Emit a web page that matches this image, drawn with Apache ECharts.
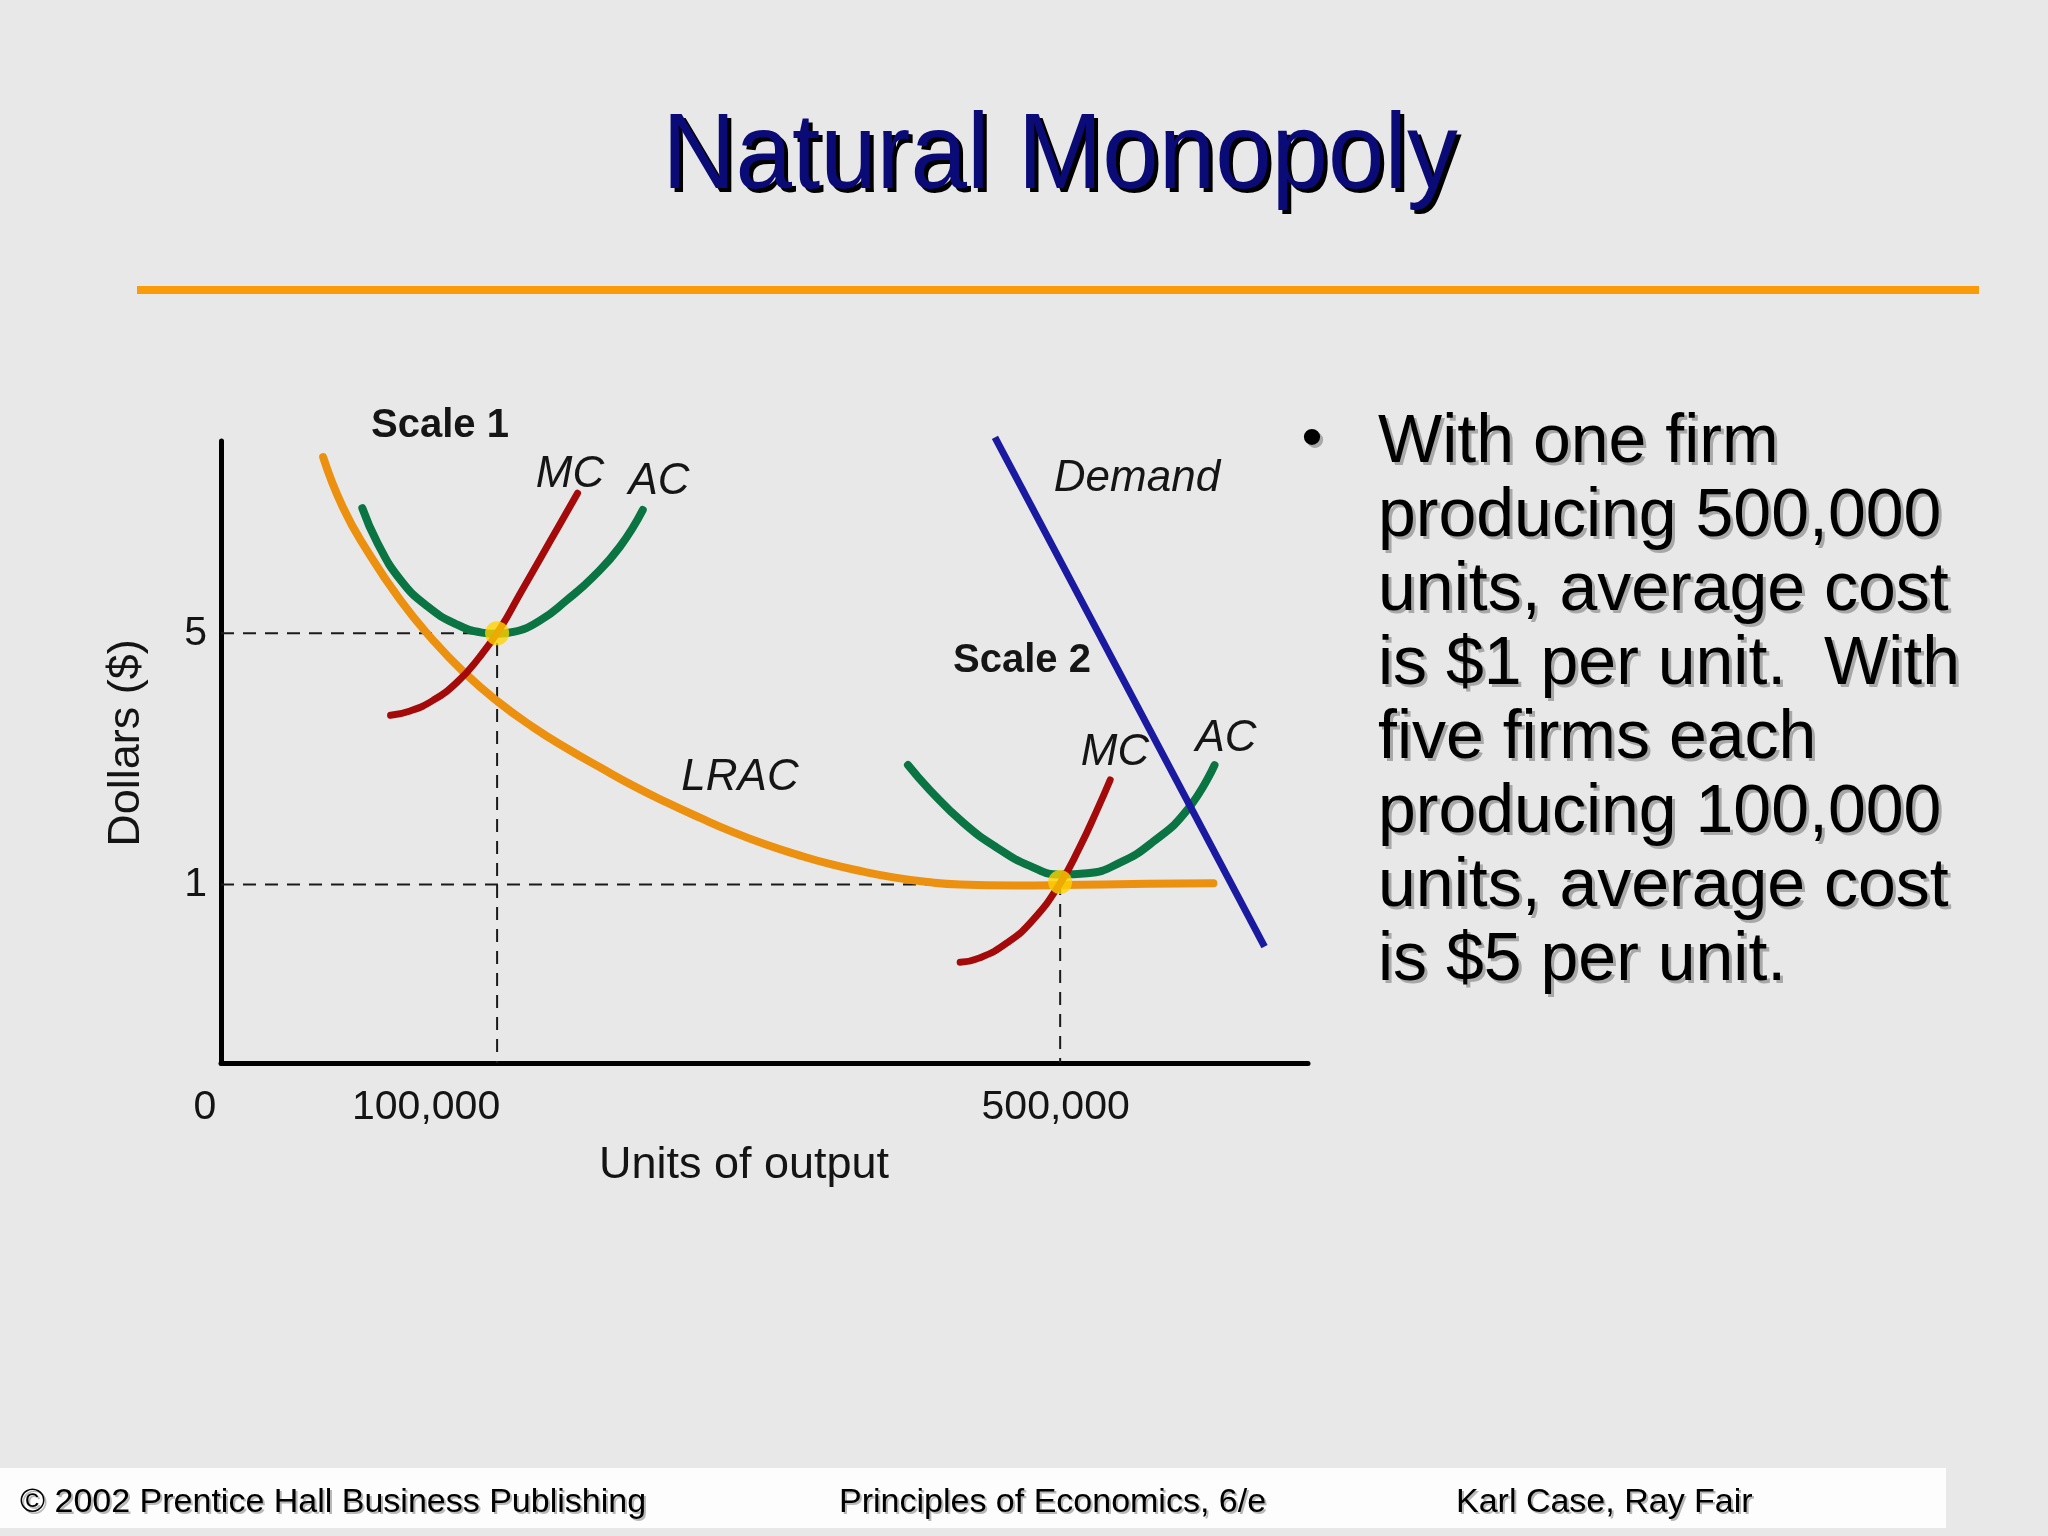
<!DOCTYPE html>
<html><head><meta charset="utf-8">
<script src="https://cdn.jsdelivr.net/npm/echarts@6/dist/echarts.min.js"></script>
<style>html,body{margin:0;padding:0;background:#e8e8e8}#c{width:2048px;height:1536px}</style>
</head><body><div id="c"></div>
<script>
// Schematic axes (the diagram is not drawn to scale): x and y in 0..100 "position" units
const xTickValues = [0, 25.4, 77.2];
const xTickLabels = ['0', '100,000', '500,000'];
const yTickValues = [28.7, 69.1];
const yTickLabels = ['1', '5'];

const lrac = [[9.4,97.4],[11.2,89.4],[13.4,82.5],[16.5,74.4],[19.5,68.0],[22.3,62.9],[25.4,58.2],[28.7,54.0],[31.8,50.6],[34.9,47.5],[37.9,44.6],[41.0,41.9],[44.1,39.4],[47.0,37.2],[50.0,35.2],[53.0,33.5],[56.0,32.0],[59.0,30.8],[62.0,29.8],[65.0,29.1],[68.0,28.7],[72.9,28.55],[77.2,28.6],[85.2,28.8],[91.3,28.9]];
const ac1 = [[13.0,89.2],[14.4,83.6],[16.5,77.7],[19.0,73.4],[21.7,70.5],[24.0,69.2],[25.4,69.0],[26.9,69.3],[29.4,71.2],[31.8,74.4],[34.2,78.1],[36.7,83.0],[38.8,88.9]];
const mc1 = [[15.6,55.9],[17.4,56.6],[19.5,58.3],[21.7,61.2],[23.8,65.3],[25.7,69.9],[27.5,75.4],[29.4,81.2],[31.2,86.7],[32.8,91.6]];
const ac2 = [[63.2,47.9],[65.2,43.9],[68.3,38.6],[71.4,34.6],[74.4,31.7],[77.2,30.3],[79.7,30.5],[82.7,32.2],[85.7,35.5],[88.9,40.7],[91.4,47.9]];
const mc2 = [[68.0,16.2],[69.8,16.9],[72.3,19.3],[74.7,23.0],[77.2,28.9],[79.0,34.7],[80.6,40.7],[81.8,45.5]];
const demand = [[71.2,100.6],[96.0,18.7]];
const guideScale1 = [[0,69.1],[25.4,69.1],[25.4,0]];
const guideCost1 = [[0,28.7],[67.2,28.7]];
const guideScale2 = [[77.2,29.1],[77.2,0]];
const minPoints = [[25.4,69.1],[77.2,29.1]];

const bulletLines = ['With one firm','producing 500,000','units, average cost','is $1 per unit.  With','five firms each','producing 100,000','units, average cost','is $5 per unit.'];
const footerTexts = ['\u00a9 2002 Prentice Hall Business Publishing','Principles of Economics, 6/e','Karl Case, Ray Fair'];

const FONT = '"Liberation Sans", Arial, Helvetica, sans-serif';
const chart = echarts.init(document.getElementById('c'), null, {renderer:'canvas', width:2048, height:1536});

function curve(data, color, width, z){
  return {type:'line', data, smooth:0.5, showSymbol:false, symbol:'none', clip:false, silent:true, z:z||3,
    lineStyle:{color, width, cap:'round', join:'round'}};
}
function guide(data){
  return {type:'line', data, showSymbol:false, symbol:'none', silent:true, z:2,
    lineStyle:{color:'#1a1a1a', width:2, type:[13,9]}};
}
function idxOf(arr, v){ let b=0; for(let i=1;i<arr.length;i++){ if(Math.abs(arr[i]-v)<Math.abs(arr[b]-v)) b=i; } return b; }
const lblBase = {fontSize:41, color:'#141414', fontFamily:FONT};

const graphics = [];
function txt(text, x, y, style, z, shadow){
  if(shadow){
    graphics.push({type:'text', x:x+shadow.dx, y:y+shadow.dy, scaleX:style.scaleX||1, z:z-1, silent:true,
      style:Object.assign({}, style, {text, fill:shadow.color})});
  }
  graphics.push({type:'text', x, y, scaleX:style.scaleX||1, z, silent:true, style:Object.assign({}, style, {text})});
}
graphics.push({type:'rect', shape:{x:137,y:286,width:1842,height:8}, style:{fill:'#fa9c0a'}, z:1});
graphics.push({type:'rect', shape:{x:0,y:1468,width:1946,height:60}, style:{fill:'#fdfdfd'}, z:1});
txt('Natural Monopoly', 1060, 158, {fontSize:108, fontFamily:FONT, fill:'#0b0b78', align:'center', verticalAlign:'middle', scaleX:0.94}, 6, {dx:4, dy:4, color:'#000'});
txt('\u2022', 1312, 440, {fontSize:60, fontFamily:FONT, fill:'#000', align:'center', verticalAlign:'middle'}, 6, {dx:3, dy:3, color:'#a8a8a8'});
bulletLines.forEach((t,i)=>{
  txt(t, 1378, 443 + i*74, {fontSize:68, fontFamily:FONT, fill:'#000', align:'left', verticalAlign:'middle'}, 6, {dx:3, dy:3, color:'#a8a8a8'});
});
const footX = [20, 839, 1456];
footerTexts.forEach((t,i)=>{
  txt(t, footX[i], 1503, {fontSize:34, fontFamily:FONT, fill:'#000', align:'left', verticalAlign:'middle'}, 6, {dx:2, dy:2, color:'#b8b8b8'});
});
function ann(text, x, y, kind){
  const s = {fontFamily:FONT, fill:'#151515', align:'center', verticalAlign:'middle'};
  if(kind==='b'){ s.fontSize=40; s.fontWeight='bold'; } else { s.fontSize=44; s.fontStyle='italic'; }
  txt(text, x, y, s, 7);
}
ann('Scale 1', 440, 426, 'b');
ann('MC', 570, 475, 'i');
ann('AC', 659, 482, 'i');
ann('LRAC', 740, 778, 'i');
ann('Demand', 1137, 479, 'i');
ann('Scale 2', 1022, 661, 'b');
ann('MC', 1115, 753, 'i');
ann('AC', 1226, 739, 'i');

const option = {
  backgroundColor:'#e8e8e8',
  animation:false,
  grid:{left:221, top:441, width:1087, height:622},
  xAxis:{type:'value', min:0, max:100,
    axisLine:{show:true, onZero:false, lineStyle:{color:'#000', width:5}},
    axisTick:{show:false}, splitLine:{show:false},
    axisLabel:{customValues:xTickValues, margin:24, ...lblBase,
      formatter:function(v){ const i=idxOf(xTickValues,v); return '{t'+i+'|'+xTickLabels[i]+'}'; },
      rich:{t0:{...lblBase, padding:[0,32,0,0]}, t1:{...lblBase, padding:[0,142,0,0]}, t2:{...lblBase, padding:[0,9,0,0]}}},
    name:'Units of output', nameLocation:'middle', nameGap:80,
    nameTextStyle:{fontSize:45, color:'#141414', fontFamily:FONT, padding:[0,41,0,0]}
  },
  yAxis:{type:'value', min:0, max:100,
    axisLine:{show:true, onZero:false, lineStyle:{color:'#000', width:5}},
    axisTick:{show:false}, splitLine:{show:false},
    axisLabel:{customValues:yTickValues, margin:14, ...lblBase,
      formatter:function(v){ return yTickLabels[idxOf(yTickValues,v)]; }},
    name:'Dollars ($)', nameLocation:'middle', nameGap:72,
    nameTextStyle:{fontSize:45, color:'#141414', fontFamily:FONT, padding:[0,0,0,18]}
  },
  graphic:graphics,
  series:[
    guide(guideScale1), guide(guideCost1), guide(guideScale2),
    curve(lrac, '#ec9010', 8, 3),
    curve(ac1, '#0a7442', 8, 4),
    curve(ac2, '#0a7442', 8, 4),
    curve(mc1, '#a50a0a', 7, 5),
    curve(mc2, '#a50a0a', 7, 5),
    {type:'line', data:demand, showSymbol:false, symbol:'none', clip:false, silent:true, z:6, lineStyle:{color:'#1a1aa0', width:7}},
    {type:'scatter', data:minPoints, symbolSize:24, itemStyle:{color:'#ffd200'}, z:8, silent:true}
  ]
};
chart.setOption(option);
</script></body></html>
